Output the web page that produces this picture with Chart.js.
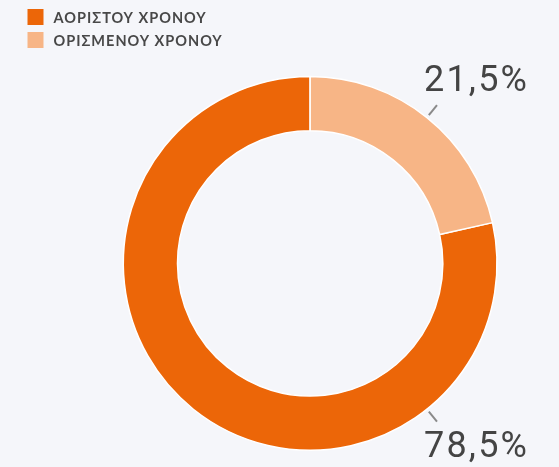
<!DOCTYPE html>
<html>
<head>
<meta charset="utf-8">
<script src="https://cdn.jsdelivr.net/npm/chart.js@4/dist/chart.umd.min.js"></script>
<style>
  html, body { margin: 0; padding: 0; background: #F5F6FA; }
  #wrap { width: 559px; height: 467px; }
</style>
</head>
<body>
<div id="wrap"><canvas id="c" width="559" height="467"></canvas></div>
<script>
// Contract types (share of employees, %)
const categories = ['ΑΟΡΙΣΤΟΥ ΧΡΟΝΟΥ', 'ΟΡΙΣΜΕΝΟΥ ΧΡΟΝΟΥ'];
const shares = [78.5, 21.5];
const sliceColors = ['#EC6608', '#F7B586'];

// Vertical legend in the top-left corner
const cornerLegend = {
  id: 'cornerLegend',
  afterDraw(chart) {
    const ctx = chart.ctx;
    ctx.save();
    ctx.font = '700 14.5px Lato';
    ctx.letterSpacing = '1px';
    ctx.textBaseline = 'middle';
    ctx.textAlign = 'left';
    chart.data.labels.forEach((label, i) => {
      const cy = 17 + i * 23;
      ctx.fillStyle = chart.data.datasets[0].backgroundColor[i];
      ctx.fillRect(27.5, cy - 8, 16, 16);
      ctx.fillStyle = '#484848';
      ctx.fillText(label, 53.5, cy + 1);
    });
    ctx.restore();
  }
};

// Value labels with short leader lines, kept on the right-hand side
const valueLabels = {
  id: 'valueLabels',
  afterDatasetsDraw(chart) {
    const ctx = chart.ctx;
    const meta = chart.getDatasetMeta(0);
    const values = chart.data.datasets[0].data;
    ctx.save();
    meta.data.forEach((arc, i) => {
      const p = arc.getProps(['x', 'y', 'startAngle', 'endAngle', 'outerRadius'], true);
      let mid = (p.startAngle + p.endAngle) / 2;
      // mirror labels from the left half onto the right half
      if (Math.cos(mid) < 0) mid = Math.PI - mid;
      const c = Math.cos(mid), s = Math.sin(mid);
      const r1 = p.outerRadius + 3, r2 = p.outerRadius + 16;
      const x1 = p.x + c * r1, y1 = p.y + s * r1;
      const x2 = p.x + c * r2, y2 = p.y + s * r2;
      ctx.strokeStyle = '#8A8A8A';
      ctx.lineWidth = 2;
      ctx.beginPath();
      ctx.moveTo(x1, y1);
      ctx.lineTo(x2, y2);
      ctx.stroke();
      ctx.font = '400 36px Roboto';
      ctx.letterSpacing = '2.2px';
      ctx.fillStyle = '#444444';
      ctx.textAlign = 'left';
      ctx.textBaseline = 'middle';
      const txt = values[i].toFixed(1).replace('.', ',') + '%';
      ctx.fillText(txt, x2 - 13, y2 + (s > 0 ? 26 : -23));
    });
    ctx.restore();
  }
};

new Chart(document.getElementById('c'), {
  type: 'doughnut',
  data: {
    labels: categories,
    datasets: [{
      data: shares,
      backgroundColor: sliceColors,
      borderColor: '#FFFFFF',
      borderWidth: 1.5,
      hoverOffset: 0
    }]
  },
  options: {
    responsive: false,
    devicePixelRatio: 1,
    animation: false,
    cutout: '71%',
    // first slice ends exactly at 12 o'clock
    rotation: shares[1] / (shares[0] + shares[1]) * 360,
    layout: { padding: { left: 122.5, right: 61.2, top: 75.8, bottom: 16 } },
    plugins: {
      legend: { display: false },
      tooltip: { enabled: false }
    }
  },
  plugins: [cornerLegend, valueLabels]
});
</script>
</body>
</html>
